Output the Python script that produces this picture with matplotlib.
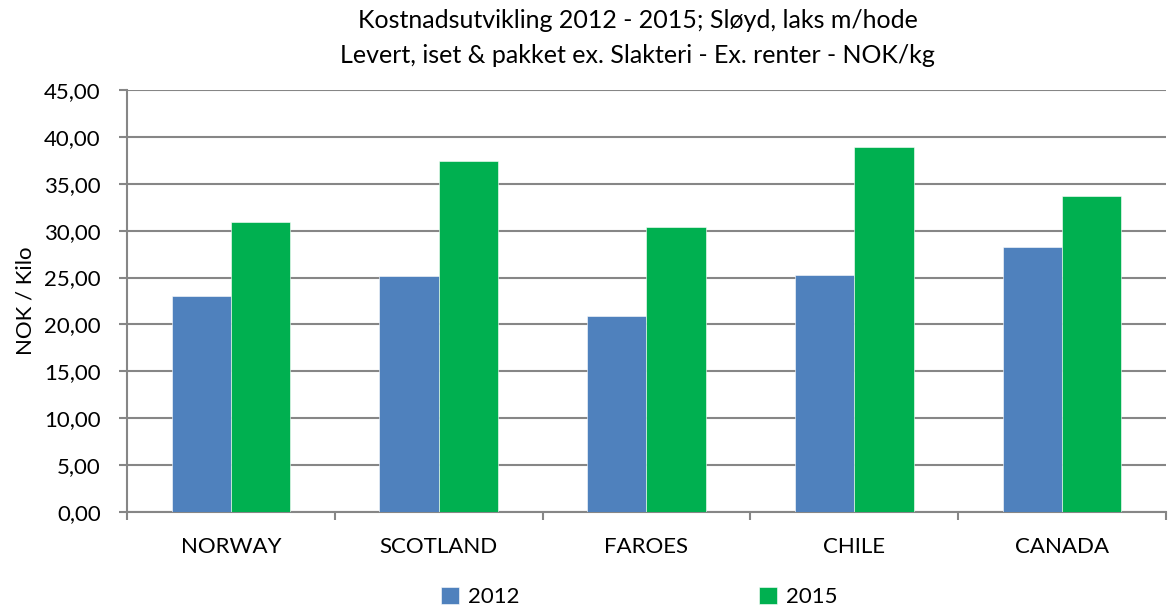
import matplotlib.pyplot as plt
import numpy as np

# data
countries = ["NORWAY", "SCOTLAND", "FAROES", "CHILE", "CANADA"]
v2012 = [23.05, 25.15, 20.90, 25.25, 28.25]
v2015 = [30.95, 37.40, 30.40, 38.95, 33.70]

blue = "#4f81bd"
green = "#00b050"
grid_col = "#868686"

plt.rcParams['font.family'] = ['Lato', 'DejaVu Sans']

fig = plt.figure(figsize=(11.73, 6.07), dpi=100)
ax = fig.add_axes([0.1083, 0.1565, 0.8857, 0.6952])

x = np.arange(len(countries))
w = 0.286
ax.bar(x - w/2, v2012, w, color=blue, label="2012", edgecolor="white", linewidth=0.4, zorder=3)
ax.bar(x + w/2, v2015, w, color=green, label="2015", edgecolor="white", linewidth=0.4, zorder=3)

ax.set_xlim(-0.5, len(countries) - 0.5)
ax.set_ylim(0, 45)
ax.set_yticks(np.arange(0, 46, 5))
ax.set_yticklabels([f"{t:.2f}".replace(".", ",") for t in np.arange(0, 46, 5)])
ax.yaxis.grid(True, color=grid_col, linewidth=1.5, zorder=0)

ax.set_xticks(x)
ax.set_xticklabels(countries)
ax.set_xticks(np.arange(-0.5, len(countries)), minor=True)
ax.tick_params(axis='x', which='major', length=0, pad=18, labelsize=16)
ax.tick_params(axis='x', which='minor', length=6, color=grid_col, width=1.5)
ax.tick_params(axis='y', length=6, color=grid_col, width=1.5, labelsize=16, pad=13)

for s in ["top", "right"]:
    ax.spines[s].set_visible(False)
for s in ["left", "bottom"]:
    ax.spines[s].set_color(grid_col)
    ax.spines[s].set_linewidth(1.5)

ax.set_ylabel("NOK / Kilo", fontsize=16, labelpad=6)

fig.text(0.5435, 0.967, "Kostnadsutvikling 2012 - 2015; Sløyd, laks m/hode", ha="center", va="center", fontsize=18)
fig.text(0.5435, 0.908, "Levert, iset & pakket ex. Slakteri - Ex. renter - NOK/kg", ha="center", va="center", fontsize=18)

fig.legend(loc="center", bbox_to_anchor=(0.545, 0.017), ncol=2, frameon=False, fontsize=16,
           handlelength=0.8, handleheight=0.8, handletextpad=0.4, columnspacing=10.8)

fig.savefig("out.png", dpi=100)
